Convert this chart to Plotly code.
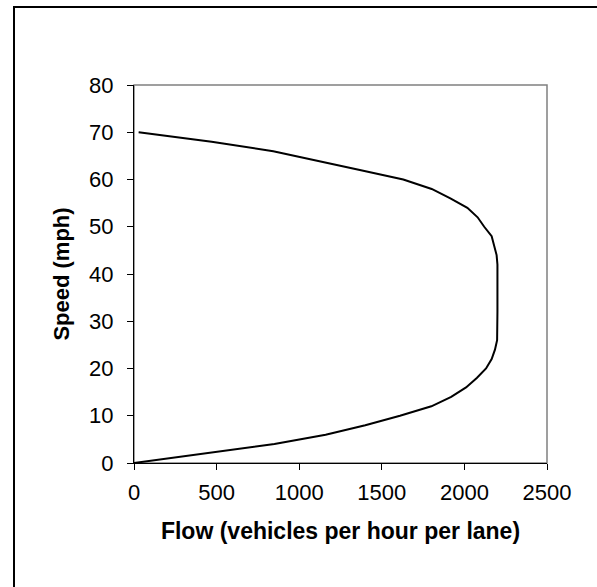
import plotly.graph_objects as go

# Speed-flow curve (flow in veh/h/lane, speed in mph)
flow = [0, 425, 850, 1160, 1400, 1610, 1800, 1920, 2010, 2075, 2131, 2165, 2185, 2198, 2200,
        2200, 2200, 2200, 2200, 2200, 2200, 2200, 2195, 2182, 2165, 2120, 2080, 2018, 1915,
        1802, 1630, 1367, 1105, 843, 470, 28]
speed = [0, 2, 4, 6, 8, 10, 12, 14, 16, 18, 20, 22, 24, 26, 28,
         30, 32, 34, 36, 38, 40, 42, 44, 46, 48, 50, 52, 54, 56,
         58, 60, 62, 64, 66, 68, 70]

x_ticks = [0, 500, 1000, 1500, 2000, 2500]
y_ticks = [0, 10, 20, 30, 40, 50, 60, 70, 80]
x_title = "Flow (vehicles per hour per lane)"
y_title = "Speed (mph)"

FONT = "Liberation Sans, Arial, sans-serif"

fig = go.Figure()
fig.add_trace(go.Scatter(x=flow, y=speed, mode="lines",
                         line=dict(color="black", width=2), showlegend=False,
                         cliponaxis=False))

L, R, T, B = 134, 50, 85, 124
W, H = 597, 587
pw, ph = W - L - R, H - T - B

def px_to_paper_x(px):
    return (px - L) / pw

def px_to_paper_y(py):
    return (H - B - py) / ph

fig.update_layout(
    width=W, height=H,
    margin=dict(l=L, r=R, t=T, b=B),
    paper_bgcolor="white", plot_bgcolor="white",
    font=dict(family=FONT, size=22, color="black"),
    xaxis=dict(range=[0, 2500], tickvals=x_ticks, showgrid=False, zeroline=False,
               showline=True, linecolor="black", linewidth=1,
               ticks="outside", ticklen=6, tickcolor="black",
               tickfont=dict(size=22), ticklabelstandoff=4,
               title=dict(text="<b>" + x_title + "</b>", font=dict(size=23), standoff=18)),
    yaxis=dict(range=[0, 80], tickvals=y_ticks, showgrid=False, zeroline=False,
               showline=True, linecolor="black", linewidth=1,
               ticks="outside", ticklen=6, tickcolor="black",
               tickfont=dict(size=22), ticklabelstandoff=9,
               title=dict(text="<b>" + y_title + "</b>", font=dict(size=22), standoff=13)),
    shapes=[
        # plot area border (gray top/right)
        dict(type="rect", xref="paper", yref="paper", x0=0, x1=1, y0=0, y1=1,
             line=dict(color="#808080", width=1.5), layer="below"),
        # outer chart frame
        dict(type="rect", xref="paper", yref="paper",
             x0=px_to_paper_x(14), x1=px_to_paper_x(610),
             y0=px_to_paper_y(600), y1=px_to_paper_y(7),
             line=dict(color="black", width=2)),
    ],
)

fig.write_html("out.html")
